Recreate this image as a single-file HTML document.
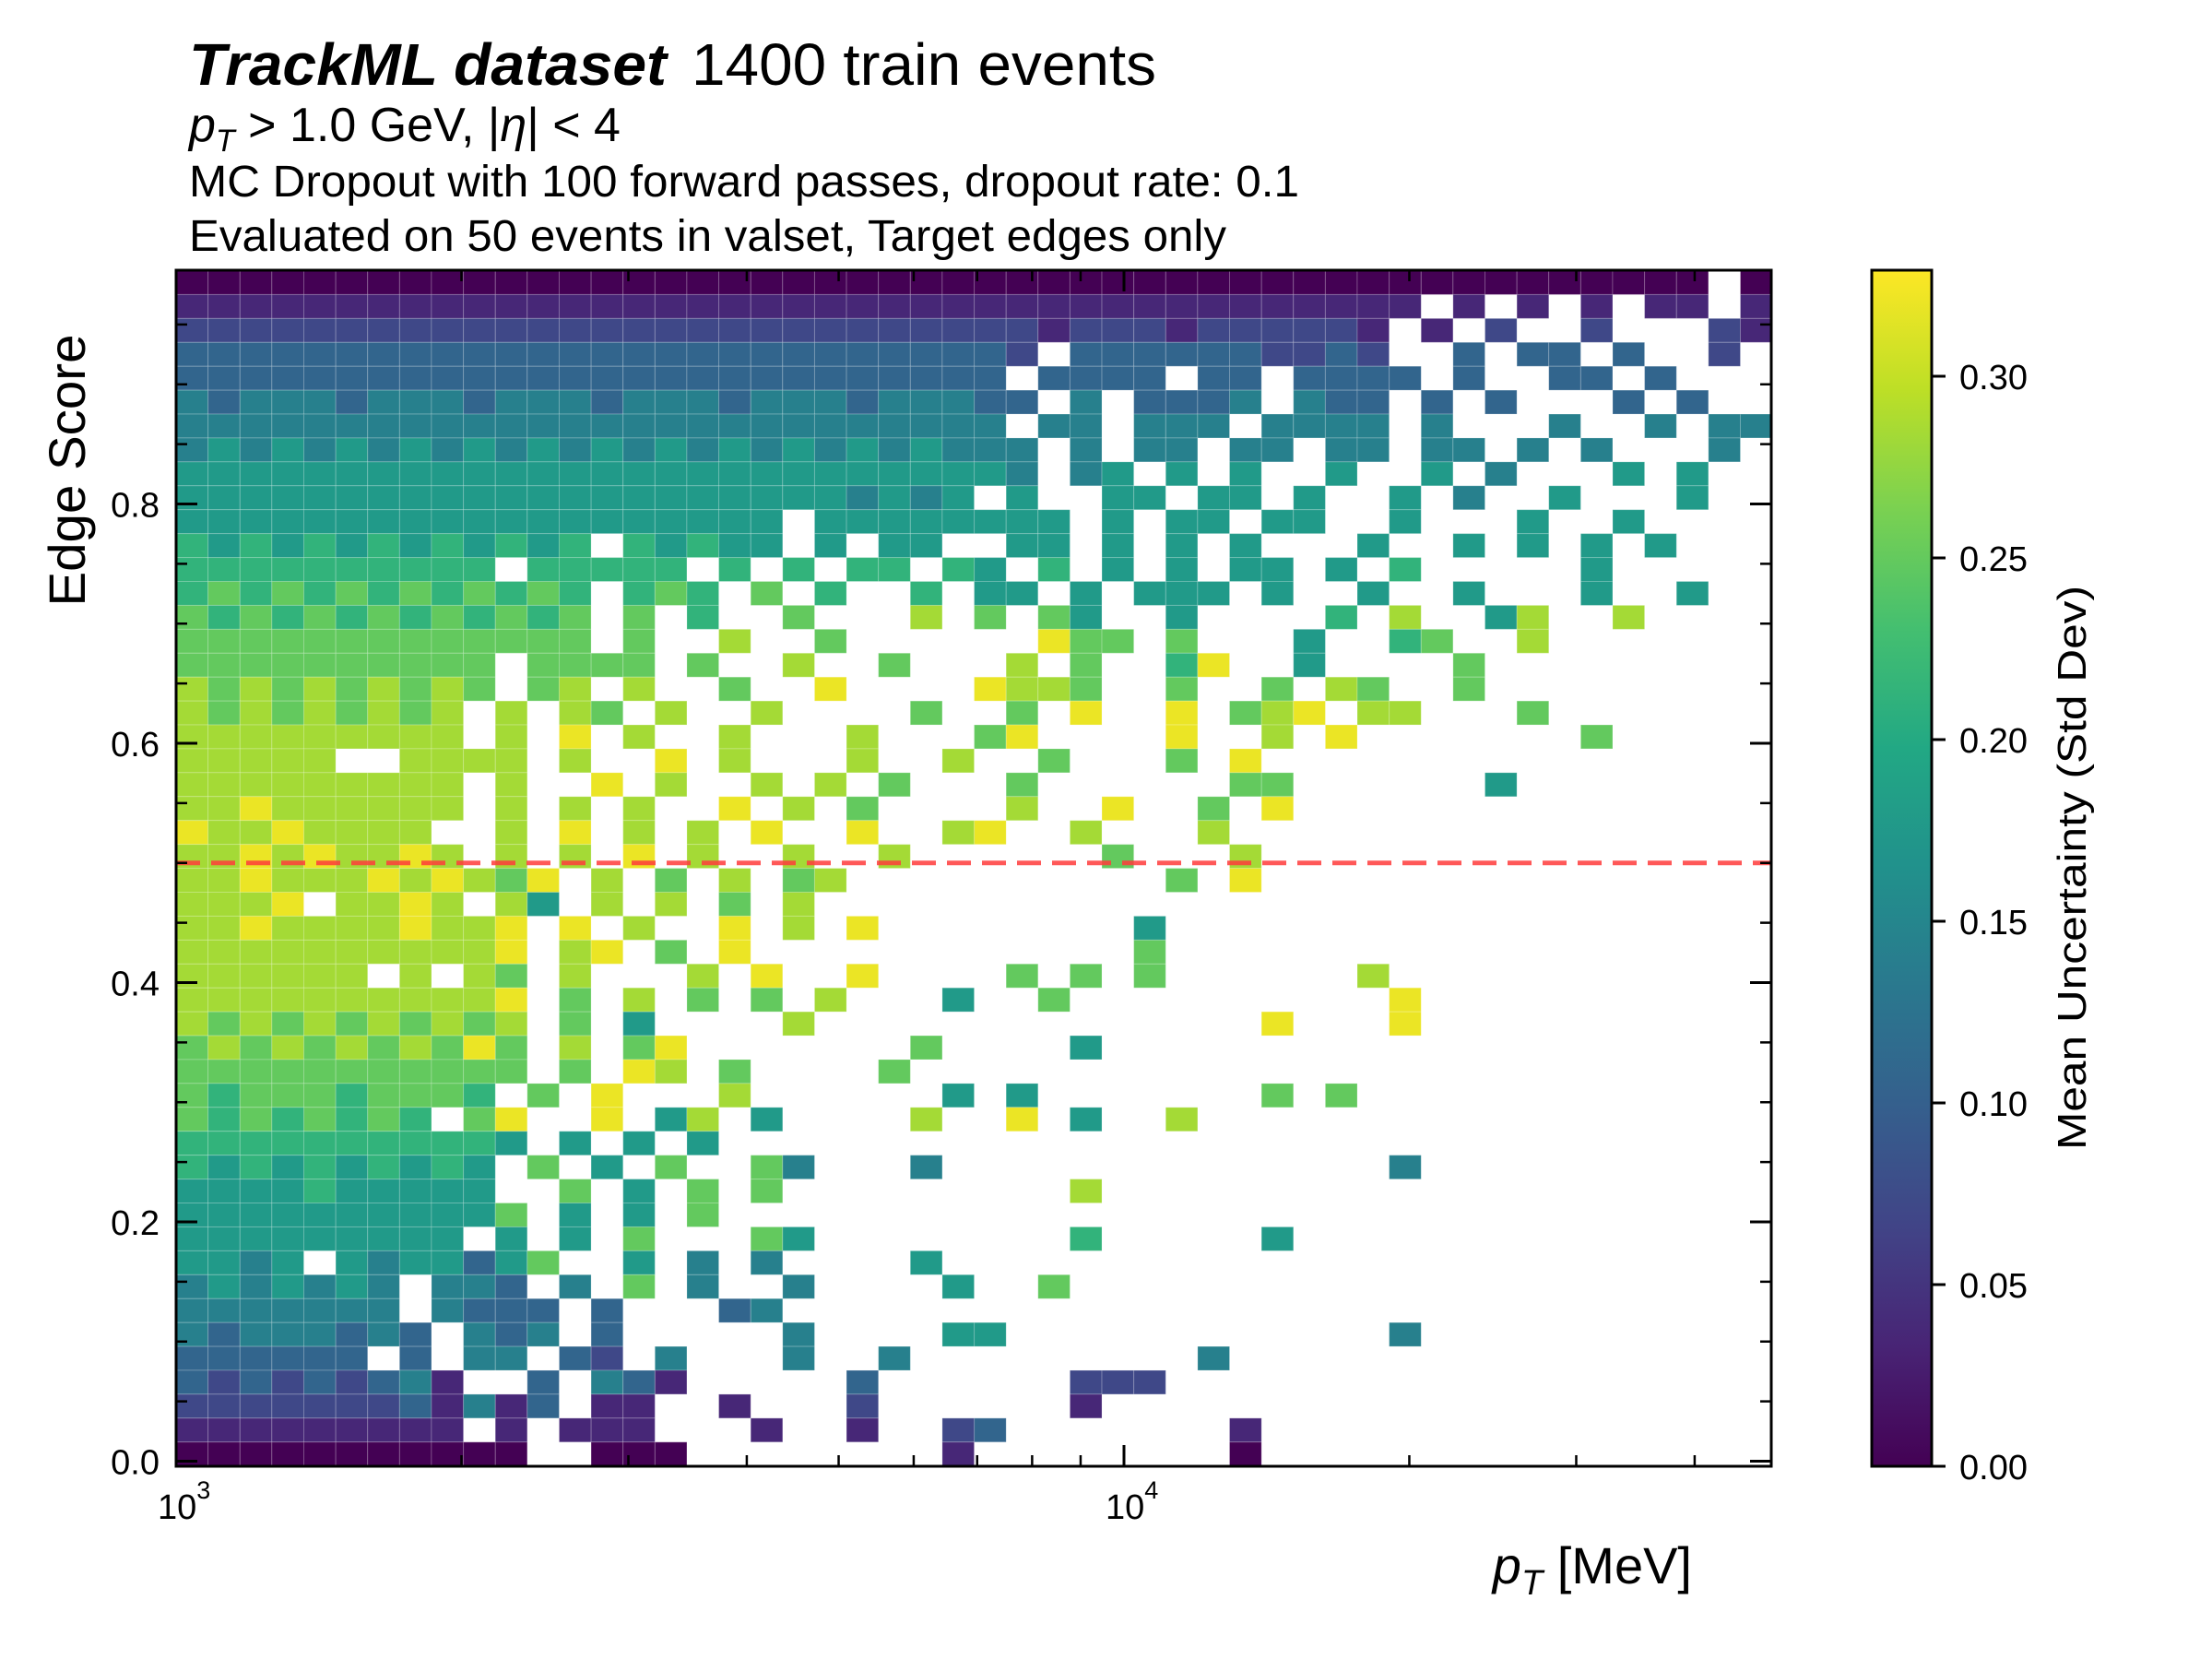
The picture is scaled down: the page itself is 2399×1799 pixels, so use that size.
<!DOCTYPE html>
<html>
<head>
<meta charset="utf-8">
<style>
  html,body{margin:0;padding:0;background:#fff;}
  svg{display:block;}
  text{font-family:"Liberation Sans","DejaVu Sans",sans-serif;fill:#000;}
</style>
</head>
<body>
<svg id="fig" width="2399" height="1799" viewBox="0 0 2399 1799" xmlns="http://www.w3.org/2000/svg">
  <defs>
    <linearGradient id="viridis" x1="0" y1="1" x2="0" y2="0">
      <stop offset="0" stop-color="#440154"/>
      <stop offset="0.1" stop-color="#482475"/>
      <stop offset="0.2" stop-color="#414487"/>
      <stop offset="0.3" stop-color="#355f8d"/>
      <stop offset="0.4" stop-color="#2a788e"/>
      <stop offset="0.5" stop-color="#21918c"/>
      <stop offset="0.6" stop-color="#22a884"/>
      <stop offset="0.7" stop-color="#44bf70"/>
      <stop offset="0.8" stop-color="#7ad151"/>
      <stop offset="0.9" stop-color="#bddf26"/>
      <stop offset="1" stop-color="#fde725"/>
    </linearGradient>
  </defs>

  <g>
    <text x="205" y="92" font-size="64"><tspan font-weight="bold" font-style="italic" textLength="518" lengthAdjust="spacingAndGlyphs">TrackML dataset</tspan><tspan x="750" textLength="504" lengthAdjust="spacingAndGlyphs">1400 train events</tspan></text>
    <text x="205" y="153" font-size="52"><tspan font-style="italic">p</tspan><tspan font-style="italic" font-size="34" dy="11">T</tspan><tspan dy="-11"> &gt; 1.0 GeV, |</tspan><tspan font-style="italic">η</tspan><tspan>| &lt; 4</tspan></text>
    <text x="205" y="213" font-size="48" textLength="1204" lengthAdjust="spacingAndGlyphs">MC Dropout with 100 forward passes, dropout rate: 0.1</text>
    <text x="205" y="272" font-size="48" textLength="1125" lengthAdjust="spacingAndGlyphs">Evaluated on 50 events in valset, Target edges only</text>
  </g>

  <g id="cells"></g>
  <line id="thresh" stroke="#ff3b3b" stroke-opacity="0.85" stroke-width="5" stroke-dasharray="26 12"/>
  <g id="axes"></g>
  <rect x="191" y="293" width="1730" height="1297" fill="none" stroke="#000" stroke-width="3"/>

  <text transform="translate(92,510) rotate(-90)" text-anchor="middle" font-size="56" textLength="295" lengthAdjust="spacingAndGlyphs">Edge Score</text>
  <text x="1835" y="1717" text-anchor="end" font-size="56"><tspan font-style="italic">p</tspan><tspan font-style="italic" font-size="38" dy="12">T</tspan><tspan dy="-12"> [MeV]</tspan></text>

  <g>
    <rect x="2030" y="293" width="65" height="1297" fill="url(#viridis)" stroke="#000" stroke-width="3"/>
    <g id="cbticks"></g>
    <text transform="translate(2262,941) rotate(-90)" text-anchor="middle" font-size="44" textLength="612" lengthAdjust="spacingAndGlyphs">Mean Uncertainty (Std Dev)</text>
  </g>
</svg>
<script>
// ---- data ----
const xRange = [1000, 48300];          // pT bin range (MeV)
const yRange = [-0.004, 0.995];        // edge-score bin range
const vmax = 0.329;                     // colour scale max
const levelScale = [0,0.036,0.071,0.107,0.142,0.178,0.213,0.249,0.284,0.32]; // char level -> value
// rows from top (high score) to bottom; '.' = empty bin. Left half = low pT bins, right half = high pT bins
const gridLeft = [
"0000000000000000000000000",
"1111111111111111111111111",
"2222222222222222222222222",
"3333333333333333333333333",
"3333333333333333333333333",
"4344434443444344434443444",
"4444444444444444444444444",
"4545454545454545454545454",
"5555555555555555555555555",
"5555555555555555555554545",
"5555555555555555555.55555",
"6565656565656.65655.5.55.",
"6666666666.66666.6.6.66.6",
"6767676767676.676.7.6..6.",
"7676767676767.7.6..7...8.",
"7777777777777.7..8..7....",
"7777777777.7777.7..8..7..",
"8787878787.78.8..7..9....",
"878787878.8.87.8..8....7.",
"888888888.8.9.8..8...8...",
"88888..8888.8..9.8...8..8",
"888888888.8..9.8..8.8.7..",
"889888888.8.8.8..9.8.7...",
"98898888..8.9.8.8.9..9..8",
"889898898.8.8.9.8..8..8..",
"889888989879.8.7.8.78....",
"8889.8898.85.8.8.7.8.....",
"88988889889.9.8..9.8.9...",
"88888888889.89.7.9.......",
"888888.8.87.8...8.9..9...",
"88888888889.7.8.7.7.8...5",
"87878787878.7.5....8.....",
"78787878797.8.79.......7.",
"77777777777.7.98.7....7..",
"7677767776.7.9...8......5",
"76767676.79..9.58.5....8.",
"66666666665.5.5.5........",
"6565656565.7.5.7..74...4.",
"5555655555..7.5.7.7......",
"55555555557.5.5.7........",
"555555555.5.5.7...75.....",
"5545.545535 7..5.4.4....5".replace(' ',''),
"4545454.443.4.7.4..4....5",
"4444444.4333.3...34......",
"43444343.434.3.....4....5",
"333333.3.44.32.4...4..4..",
"323232341..3.431.....3...",
"222222231413.11..1...2...",
"111111111.1.111...1..1..2",
"00000000000..000........1"
];
const gridRight = [
"00000000000000000000000.0",
"11111111111111.1.1.1.11.1",
"2212221222221.1.2..2...21",
"32.3333332232..3.33.3..2.",
"3.3333.33.3333.3..33.3...",
"33.4.3334.433.3.3...3.3..",
"4.44.444.4444.4...4..4.44",
"44.4.44.44.44.44.4.4...4.",
"54.45.5.5..5..5.4...5.5..",
".5..55.55.5..5.4..5...5..",
"555.5.55.55..5...5..5....",
".55.5.5.5...5..5.5.5.5...",
"5.6.5.5.55.5.6.....5.....",
"55.5.555.5..5..5...5..5..",
"7.75..5....6.8..58..8....",
"..977.7...5..67..8.......",
".8.7..69..5....7.........",
"9887..7..7.87..7.........",
".7.9..9.789.88...7.......",
"79....9..8.9.......7.....",
"..7...7.9................",
".7......77......5........",
".8..9..7.9...............",
"9..8...8.................",
"....7...8................",
"......7.9................",
".........................",
".....5...................",
".....7...................",
".7.7.7......8............",
"..7..........9...........",
".........9...9...........",
"...5.....................",
".........................",
".5.......7.7.............",
".9.5..8..................",
".........................",
".............4...........",
"...8.....................",
".........................",
"...6.....5...............",
".........................",
"..7......................",
".........................",
"5............4...........",
".......4.................",
"...222...................",
"...1.....................",
"3.......1................",
"........0................"
];
const yTicks = [0.0, 0.2, 0.4, 0.6, 0.8];
const yTickLabels = ["0.0","0.2","0.4","0.6","0.8"];
const yMinorTicks = [0.05,0.1,0.15,0.25,0.3,0.35,0.45,0.5,0.55,0.65,0.7,0.75,0.85,0.9,0.95];
const xMajorTicks = [1000, 10000];
const xMajorExp = ["3","4"];
const xMinorTicks = [2000,3000,4000,5000,6000,7000,8000,9000,20000,30000,40000];
const cbTicks = [0.00,0.05,0.10,0.15,0.20,0.25,0.30];
const cbTickLabels = ["0.00","0.05","0.10","0.15","0.20","0.25","0.30"];
const threshold = 0.5;

// ---- axes ----
const PX0 = 191, PX1 = 1921, PY0 = 293, PY1 = 1590;
const decadePx = 1028;
function xs(v){ return PX0 + (Math.log10(v) - 3) * decadePx; }
function ys(v){ return 1584.5 - v * 1297.5; }
function cbY(v){ return 1590 - v * (197/0.05); }

const vir = ["#440154","#482475","#414487","#355f8d","#2a788e","#21918c","#22a884","#44bf70","#7ad151","#bddf26","#fde725"];
function hex(h){ return [parseInt(h.slice(1,3),16),parseInt(h.slice(3,5),16),parseInt(h.slice(5,7),16)]; }
function viridis(t){
  t = Math.max(0, Math.min(1, t));
  const f = t * 10, i = Math.min(9, Math.floor(f)), r = f - i;
  const a = hex(vir[i]), b = hex(vir[i+1]);
  return "rgb(" + a.map((c,k)=>Math.round(c + (b[k]-c)*r)).join(",") + ")";
}

const NS = "http://www.w3.org/2000/svg";
function mk(tag, attrs, parent){
  const el = document.createElementNS(NS, tag);
  for (const k in attrs) el.setAttribute(k, attrs[k]);
  parent.appendChild(el);
  return el;
}

// ---- heatmap cells ----
const cellsG = document.getElementById("cells");
const nRows = gridLeft.length, nHalf = 25, nCols = 50;
const lx0 = Math.log10(xRange[0]), lx1 = Math.log10(xRange[1]);
const dyBin = (yRange[1] - yRange[0]) / nRows;
function drawCell(r, c, ch){
  if (ch < '0' || ch > '9') return;
  const val = levelScale[+ch];
  const xa = xs(Math.pow(10, lx0 + (lx1-lx0)*c/nCols));
  const xb = xs(Math.pow(10, lx0 + (lx1-lx0)*(c+1)/nCols));
  const yTop = yRange[1] - r*dyBin, yBot = yTop - dyBin;
  const ya = Math.max(PY0, ys(yTop)), yb = Math.min(PY1, ys(yBot));
  const rect = mk("rect", {x: xa.toFixed(2), y: ya.toFixed(2), width: (xb-xa).toFixed(2), height: (yb-ya).toFixed(2), fill: viridis(val / vmax), stroke: "rgba(255,255,255,0.22)", "stroke-width": 1}, cellsG);
  
  
}
for (let r = 0; r < nRows; r++){
  const L = gridLeft[r], R = gridRight[r] || "";
  for (let c = 0; c < nHalf; c++){
    drawCell(r, c, L[c] || '.');
    drawCell(r, c + nHalf, R[c] || '.');
  }
}

// threshold line
const th = document.getElementById("thresh");
th.setAttribute("x1", PX0); th.setAttribute("x2", PX1);
th.setAttribute("y1", ys(threshold)); th.setAttribute("y2", ys(threshold));

// ---- ticks ----
const axesG = document.getElementById("axes");
yTicks.forEach((v,i)=>{
  const y = ys(v);
  const t1 = mk("line",{x1:PX0,x2:PX0+23,y1:y,y2:y,stroke:"#000","stroke-width":3},axesG);
  
  
  const t2 = mk("line",{x1:PX1-23,x2:PX1,y1:y,y2:y,stroke:"#000","stroke-width":3},axesG);
  
  
  const lab = mk("text",{x:173,y:y+14,"text-anchor":"end","font-size":38},axesG);
  lab.textContent = yTickLabels[i];
  
  
});
yMinorTicks.forEach(v=>{
  const y = ys(v);
  const t1 = mk("line",{x1:PX0,x2:PX0+12,y1:y,y2:y,stroke:"#000","stroke-width":2.5},axesG);
  
  
  const t2 = mk("line",{x1:PX1-12,x2:PX1,y1:y,y2:y,stroke:"#000","stroke-width":2.5},axesG);
  
  
});
xMajorTicks.forEach((v,i)=>{
  const x = xs(v);
  const t1 = mk("line",{x1:x,x2:x,y1:PY1,y2:PY1-23,stroke:"#000","stroke-width":3},axesG);
  
  
  const t2 = mk("line",{x1:x,x2:x,y1:PY0,y2:PY0+23,stroke:"#000","stroke-width":3},axesG);
  
  
  const lab = mk("text",{x:x-20,y:1647,"font-size":38},axesG);
  
  
  const base = document.createElementNS(NS,"tspan"); base.textContent = "10"; lab.appendChild(base);
  const sup = document.createElementNS(NS,"tspan"); sup.setAttribute("font-size","27"); sup.setAttribute("dy","-22"); sup.textContent = xMajorExp[i]; lab.appendChild(sup);
});
xMinorTicks.forEach(v=>{
  const x = xs(v);
  const t1 = mk("line",{x1:x,x2:x,y1:PY1,y2:PY1-12,stroke:"#000","stroke-width":2.5},axesG);
  
  
  const t2 = mk("line",{x1:x,x2:x,y1:PY0,y2:PY0+12,stroke:"#000","stroke-width":2.5},axesG);
  
  
});

// ---- colorbar ticks ----
const cbG = document.getElementById("cbticks");
cbTicks.forEach((v,i)=>{
  const y = cbY(v);
  const t = mk("line",{x1:2095,x2:2110,y1:y,y2:y,stroke:"#000","stroke-width":3},cbG);
  
  
  const lab = mk("text",{x:2125,y:y+14,"font-size":38},cbG);
  lab.textContent = cbTickLabels[i];
  
  
});
</script>
</body>
</html>
